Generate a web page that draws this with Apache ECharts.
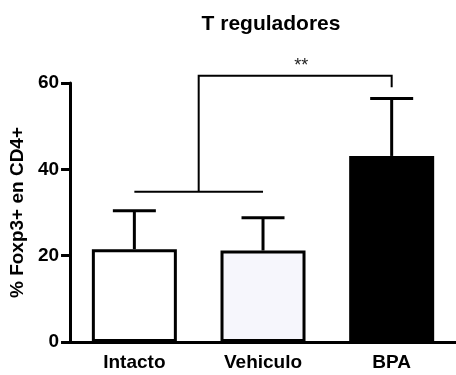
<!DOCTYPE html>
<html>
<head>
<meta charset="utf-8">
<script src="https://cdn.jsdelivr.net/npm/echarts@6/dist/echarts.min.js"></script>
<style>html,body{margin:0;padding:0;background:#fff}#c{width:456px;height:375px}</style>
</head>
<body>
<div id="c"></div>
<script>
var categories = ['Intacto', 'Vehiculo', 'BPA'];
var means = [21.5, 21.2, 43.1];
var errors = [8.9, 7.6, 13.3];
var barColors = ['#ffffff', '#f6f6fc', '#000000'];
var yTicks = [0, 20, 40, 60];
var bracketLevels = [34.8, 61.7, 59.0]; // low bar, top bar, right drop end
var sigLabel = '**';
var sigLabelValue = 64.5;
var titleText = 'T reguladores';
var yName = '% Foxp3+ en CD4+';

var FONT = '"Liberation Sans", Arial, sans-serif';
var chart = echarts.init(document.getElementById('c'), null, {renderer: 'canvas'});

var errData = means.map(function (m, i) { return [i, m, m + errors[i]]; });

chart.setOption({
  animation: false,
  backgroundColor: '#fff',
  title: {
    text: titleText, left: 266, top: 9, textAlign: 'center',
    textStyle: {fontFamily: FONT, fontSize: 21, fontWeight: 'bold', color: '#000'}
  },
  grid: {left: 68, right: -2, top: 83, bottom: 33, containLabel: false},
  xAxis: {
    type: 'category', data: categories,
    axisLine: {lineStyle: {color: '#000', width: 3}},
    axisTick: {alignWithLabel: true, length: 6, lineStyle: {color: '#000', width: 2}},
    axisLabel: {color: '#000', fontFamily: FONT, fontSize: 19, fontWeight: 'bold', margin: 11}
  },
  yAxis: {
    type: 'value', min: yTicks[0], max: yTicks[yTicks.length - 1], interval: 20,
    name: yName, nameLocation: 'middle', nameGap: 42, nameRotate: 90,
    nameTextStyle: {color: '#000', fontFamily: FONT, fontSize: 19, fontWeight: 'bold'},
    axisLine: {show: true, lineStyle: {color: '#000', width: 3}},
    axisTick: {show: true, length: 9, lineStyle: {color: '#000', width: 3}},
    splitLine: {show: false},
    axisLabel: {color: '#000', fontFamily: FONT, fontSize: 19, fontWeight: 'bold', margin: 11}
  },
  series: [
    {
      type: 'bar', barWidth: 85, z: 2,
      data: means.map(function (v, i) {
        return {value: v, itemStyle: {color: barColors[i], borderColor: '#000', borderWidth: 3}};
      })
    },
    {
      type: 'custom', z: 3, clip: false,
      data: errData,
      renderItem: function (params, api) {
        var base = api.coord([api.value(0), api.value(1)]);
        var top = api.coord([api.value(0), api.value(2)]);
        var half = 21.5;
        var st = {stroke: '#000', lineWidth: 3};
        return {type: 'group', children: [
          {type: 'line', shape: {x1: base[0], y1: base[1], x2: top[0], y2: top[1]}, style: st},
          {type: 'line', shape: {x1: top[0] - half, y1: top[1], x2: top[0] + half, y2: top[1]}, style: st}
        ]};
      }
    },
    {
      type: 'custom', z: 4, clip: false,
      data: [[0]],
      renderItem: function (params, api) {
        var a = api.coord([0, bracketLevels[0]]);
        var b = api.coord([1, bracketLevels[0]]);
        var midX = (a[0] + b[0]) / 2;
        var topL = api.coord([0, bracketLevels[1]]);
        var c = api.coord([2, bracketLevels[1]]);
        var d = api.coord([2, bracketLevels[2]]);
        var t = api.coord([2, sigLabelValue]);
        var st = {stroke: '#000', lineWidth: 2};
        return {type: 'group', children: [
          {type: 'line', shape: {x1: a[0], y1: a[1], x2: b[0], y2: b[1]}, style: st},
          {type: 'polyline', shape: {points: [[midX, a[1]], [midX, topL[1]], [c[0], c[1]], [d[0], d[1]]]}, style: {stroke: '#000', lineWidth: 2, fill: null}},
          {type: 'text', style: {text: sigLabel, x: (midX + c[0]) / 2 + 6, y: t[1] + 2, textAlign: 'center', textVerticalAlign: 'middle', fontFamily: FONT, fontSize: 18, fill: '#222'}}
        ]};
      }
    }
  ]
});
</script>
</body>
</html>
